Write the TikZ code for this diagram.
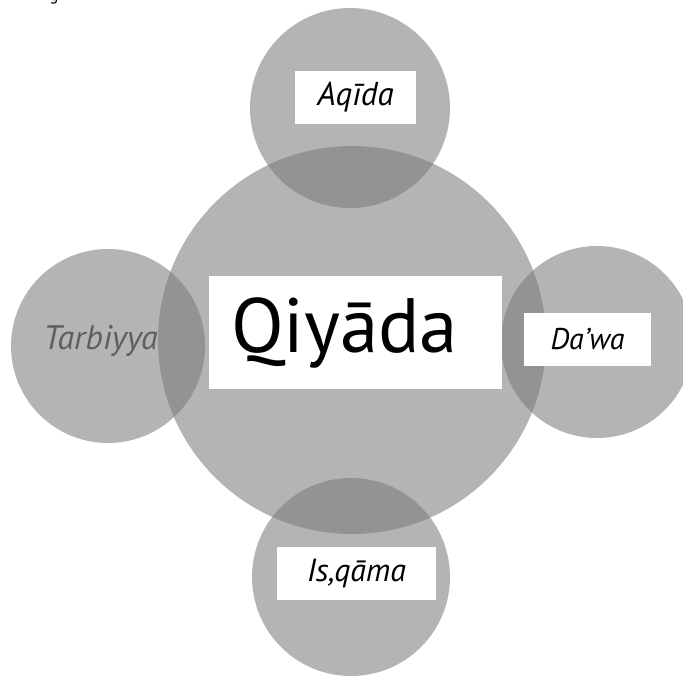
\documentclass[tikz,border=0pt]{standalone}
\usepackage{fontspec}
\setmainfont{PT Sans}
\usepackage{xcolor}
\usetikzlibrary{positioning}
\definecolor{ring}{RGB}{120, 120, 120}
\definecolor{soft}{RGB}{95, 95, 95}
\tikzset{
    orb/.style={circle, fill=ring, fill opacity=0.55, draw=none, inner sep=0pt},
    tag/.style={rectangle, fill=white, draw=none, inner sep=0pt, font=\itshape, align=center},
    title/.style={rectangle, fill=white, draw=none, inner ysep=0pt, align=left}
}
\begin{document}
\begin{tikzpicture}[x=1pt, y=-1pt]
    \useasboundingbox (0,0) rectangle (683,675);
    \fill[white] (0,0) rectangle (683,675);
    % cut-off letter from the line above
    \node[anchor=base, font=\fontsize{17}{17}\selectfont, inner sep=0pt] (cut) at (54,0) {g};
    % circles
    \node[orb, minimum size=388pt] (qiyada) at (352,340) {};
    \node[orb, minimum size=200pt] (aqida) at (350,108) {};
    \node[orb, minimum size=194pt] (tarbiyya) at (108,346) {};
    \node[orb, minimum size=192pt] (dawa) at (597,342) {};
    \node[orb, minimum size=198pt] (iqama) at (351,577) {};
    % labels
    \node[title, minimum height=113pt, text width=249pt, inner xsep=22pt, font=\fontsize{77}{77}\selectfont] (qiyadatag) at (355.5,332.5) {Qiyāda};
    \node[tag, minimum width=121pt, minimum height=53pt, font=\itshape\fontsize{33}{33}\selectfont] (aqidatag) at (355.5,97.5) {Aqīda};
    \node[tag, minimum width=127pt, minimum height=53pt, font=\itshape\fontsize{30}{30}\selectfont] (dawatag) at (587.5,339.5) {Da'wa};
    \node[tag, minimum width=159pt, minimum height=53pt, font=\itshape\fontsize{32}{32}\selectfont] (iqamatag) at (356.5,573.5) {Is,qāma};
    \node[font=\itshape\fontsize{34}{34}\selectfont, text=soft, inner sep=0pt] (tarbiyyatag) at (100.5,341) {Tarbiyya};
\end{tikzpicture}
\end{document}
